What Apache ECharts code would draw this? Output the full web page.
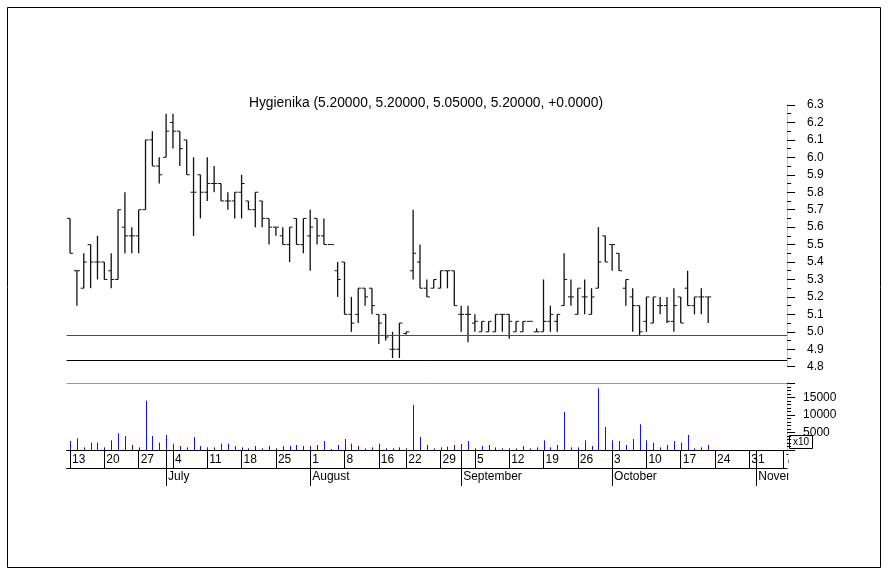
<!DOCTYPE html>
<html>
<head>
<meta charset="utf-8">
<script src="https://cdn.jsdelivr.net/npm/echarts@6/dist/echarts.min.js"></script>
<style>
  html, body { margin: 0; padding: 0; background: #fff; }
  #chart { width: 889px; height: 576px; }
</style>
</head>
<body>
<div id="chart"></div>
<script>
// trading days (2005), last 11 are empty future slots on the axis
var dates = [
  '06-13','06-14','06-15','06-16','06-17','06-20','06-21','06-22','06-23','06-24','06-27','06-28','06-29','06-30',
  '07-01','07-04','07-05','07-06','07-07','07-08','07-11','07-12','07-13','07-14','07-15','07-18','07-19','07-20','07-21','07-22','07-25','07-26','07-27','07-28','07-29',
  '08-01','08-02','08-03','08-04','08-05','08-08','08-09','08-10','08-11','08-12','08-16','08-17','08-18','08-19','08-22','08-23','08-24','08-25','08-26','08-29','08-30','08-31',
  '09-01','09-02','09-05','09-06','09-07','09-08','09-09','09-12','09-13','09-14','09-15','09-16','09-19','09-20','09-21','09-22','09-23','09-26','09-27','09-28','09-29','09-30',
  '10-03','10-04','10-05','10-06','10-07','10-10','10-11','10-12','10-13','10-14','10-17','10-18','10-19','10-20','10-21',
  '10-24','10-25','10-26','10-27','10-28','10-31','11-01','11-02','11-03','11-04','11-07'
];
var monthNames = ['January','February','March','April','May','June','July','August','September','October','November','December'];

var open = [5.65,5.35,5.25,5.50,5.40,5.40,5.35,5.30,5.60,5.55,5.55,5.70,6.10,5.95,6.00,6.20,6.15,6.10,5.80,5.90,
  5.80,5.85,5.85,5.75,5.75,5.80,5.75,5.70,5.75,5.65,5.60,5.55,5.50,5.65,5.50,5.55,5.65,5.55,5.50,5.35,
  5.40,5.10,5.10,5.25,5.25,5.10,5.10,4.90,4.90,4.99,5.35,5.40,5.25,5.25,5.25,5.35,5.35,5.10,5.10,5.05,
  5.00,5.00,5.00,5.10,5.10,5.00,5.00,5.06,5.00,5.00,5.06,5.06,5.15,5.20,5.10,5.20,5.10,5.25,5.55,5.50,
  5.45,5.25,5.20,5.15,5.06,5.05,5.15,5.15,5.06,5.20,5.25,5.15,5.20,5.20];
var high = [5.65,5.35,5.45,5.50,5.55,5.40,5.45,5.70,5.80,5.60,5.70,6.10,6.15,6.00,6.25,6.25,6.15,6.10,6.00,5.90,
  6.00,5.95,5.85,5.80,5.80,5.90,5.75,5.80,5.75,5.65,5.60,5.60,5.60,5.65,5.65,5.70,5.65,5.65,5.50,5.40,
  5.40,5.20,5.25,5.25,5.25,5.10,5.10,5.00,5.05,5.00,5.70,5.50,5.30,5.30,5.35,5.35,5.35,5.15,5.15,5.10,
  5.06,5.06,5.10,5.10,5.10,5.06,5.06,5.06,5.02,5.30,5.15,5.10,5.45,5.30,5.25,5.30,5.25,5.60,5.55,5.50,
  5.45,5.30,5.25,5.15,5.20,5.20,5.20,5.20,5.25,5.20,5.35,5.20,5.25,5.20];
var low = [5.45,5.15,5.25,5.25,5.30,5.30,5.25,5.30,5.45,5.45,5.45,5.70,5.95,5.85,6.00,6.05,5.95,5.90,5.55,5.65,
  5.75,5.80,5.75,5.70,5.65,5.65,5.70,5.60,5.60,5.50,5.55,5.50,5.40,5.50,5.45,5.35,5.50,5.50,5.50,5.20,
  5.10,5.00,5.05,5.15,5.10,4.93,4.95,4.85,4.85,4.985,5.30,5.25,5.20,5.25,5.25,5.25,5.15,5.00,4.94,5.00,
  5.00,5.00,5.00,5.00,4.96,5.00,5.00,5.06,5.00,5.00,5.00,5.00,5.15,5.15,5.10,5.10,5.10,5.25,5.40,5.35,
  5.35,5.15,5.00,4.98,5.00,5.05,5.10,5.05,5.00,5.05,5.15,5.10,5.10,5.05];
var close = [5.45,5.35,5.40,5.40,5.40,5.30,5.30,5.70,5.55,5.55,5.70,6.10,5.95,5.90,6.15,6.15,6.05,5.90,5.80,5.80,
  5.85,5.85,5.75,5.75,5.80,5.85,5.70,5.80,5.65,5.60,5.60,5.50,5.60,5.50,5.65,5.60,5.55,5.50,5.50,5.30,
  5.10,5.05,5.25,5.20,5.15,5.05,4.97,4.90,5.05,5.00,5.45,5.25,5.20,5.30,5.35,5.35,5.15,5.10,5.10,5.06,
  5.06,5.06,5.10,5.10,5.06,5.06,5.06,5.06,5.00,5.06,5.10,5.10,5.30,5.20,5.25,5.20,5.20,5.40,5.40,5.50,
  5.35,5.30,5.15,5.00,5.20,5.20,5.15,5.06,5.15,5.05,5.15,5.20,5.20,5.20];
var volume = [2580,3340,760,2100,2100,760,2770,4780,4010,1430,760,14130,4010,2100,4300,1810,1150,760,3720,1150,
  760,760,1810,1810,1150,760,480,1150,480,1150,480,1150,1150,1430,1150,1150,1430,2580,290,1430,
  3150,1810,1150,480,760,1810,480,480,760,480,12900,3720,1430,480,760,960,1430,1720,2580,480,
  1150,1430,760,480,480,480,1150,480,760,2770,760,1430,10890,760,760,2770,1150,17670,6590,2770,
  2580,1430,3150,7350,2770,2100,760,1430,2580,2100,4300,480,760,1430];
var priceTicks = [4.8, 6.3, 0.1];   // min, max, step
var volumeTicks = [0, 19200, 5000];
var supportLevel = 4.98;
var title = 'Hygienika (5.20000, 5.20000, 5.05000, 5.20000, +0.0000)';

function dayOf(s) { var p = s.split('-'); return new Date(2005, +p[0] - 1, +p[1]); }
function isWeekStart(i) {
  if (i === 0) return true;
  return dayOf(dates[i]).getDay() <= dayOf(dates[i - 1]).getDay();
}
function isMonthStart(i) {
  return i > 0 && dates[i].slice(0, 2) !== dates[i - 1].slice(0, 2);
}

var ohlc = open.map(function (o, i) { return [i, o, high[i], low[i], close[i]]; });
var volData = volume.map(function (v, i) { return [i, v]; });

var FONT = 'Liberation Sans';
var gridL = 66.6, gridW = 720.5;

var option = {
  animation: false,
  title: {
    text: title, left: 249, top: 96, padding: 0,
    textStyle: { fontSize: 13.8, fontWeight: 'normal', color: '#000', fontFamily: FONT }
  },
  grid: [
    { left: gridL, width: gridW, top: 105, height: 261.7 },
    { left: gridL, width: gridW, top: 383, height: 67 }
  ],
  xAxis: [
    { type: 'category', gridIndex: 0, position: 'bottom', data: dates, boundaryGap: true, show: false },
    { type: 'category', gridIndex: 1, position: 'bottom', data: dates, boundaryGap: true,
      axisLine: { show: true, lineStyle: { color: '#000', width: 1 } },
      axisTick: { show: true, alignWithLabel: true, interval: function (i) { return isWeekStart(i); }, length: 18, lineStyle: { color: '#000', width: 1 } },
      axisLabel: { show: true, interval: function (i) { return isWeekStart(i); }, formatter: function (v) { return String(+v.slice(3)); },
        align: 'left', margin: 4, padding: [0, 0, 0, 2], fontSize: 12, color: '#000', fontFamily: FONT }
    },
    { type: 'category', gridIndex: 1, position: 'bottom', data: dates, boundaryGap: true,
      axisLine: { show: false },
      axisTick: { show: true, alignWithLabel: true, interval: function (i) { return isMonthStart(i); }, length: 36, lineStyle: { color: '#000', width: 1 } },
      axisLabel: { show: true, interval: function (i) { return isMonthStart(i); }, formatter: function (v) { return monthNames[+v.slice(0, 2) - 1]; },
        align: 'left', margin: 21, padding: [0, 0, 0, 2], fontSize: 12, color: '#000', fontFamily: FONT }
    },
    { type: 'category', gridIndex: 1, position: 'bottom', data: dates, boundaryGap: true, offset: 18,
      axisLine: { show: true, lineStyle: { color: '#000', width: 1 } }, axisTick: { show: false }, axisLabel: { show: false } }
  ],
  yAxis: [
    { type: 'value', gridIndex: 0, position: 'right', min: priceTicks[0], max: priceTicks[1], interval: priceTicks[2],
      splitLine: { show: false },
      axisLine: { show: true, lineStyle: { color: '#c8c8c8' } },
      axisTick: { show: true, length: 8, lineStyle: { color: '#000' } },
      minorTick: { show: true, splitNumber: 2, length: 4, lineStyle: { color: '#000' } },
      axisLabel: { margin: 20, fontSize: 12, color: '#000', fontFamily: FONT, formatter: function (v) { return v.toFixed(1); } }
    },
    { type: 'value', gridIndex: 1, position: 'right', min: volumeTicks[0], max: volumeTicks[1], interval: volumeTicks[2],
      splitLine: { show: false },
      axisLine: { show: true, lineStyle: { color: '#c8c8c8' } },
      axisTick: { show: true, length: 8, lineStyle: { color: '#000' } },
      minorTick: { show: true, splitNumber: 5, length: 4, lineStyle: { color: '#000' } },
      axisLabel: { margin: 16, fontSize: 12, color: '#000', fontFamily: FONT,
        formatter: function (v) { return (v > 0 && v % 5000 === 0) ? String(v) : ''; } }
    }
  ],
  series: [
    {
      type: 'custom', xAxisIndex: 0, yAxisIndex: 0, data: ohlc,
      encode: { x: 0, y: [1, 2, 3, 4] },
      renderItem: function (params, api) {
        var x = api.coord([api.value(0), api.value(1)])[0];
        var yo = api.coord([api.value(0), api.value(1)])[1];
        var yh = api.coord([api.value(0), api.value(2)])[1];
        var yl = api.coord([api.value(0), api.value(3)])[1];
        var yc = api.coord([api.value(0), api.value(4)])[1];
        var st = { stroke: '#111', lineWidth: 1.3 };
        return { type: 'group', children: [
          { type: 'line', shape: { x1: x, y1: yh, x2: x, y2: yl }, style: st },
          { type: 'line', shape: { x1: x - 3, y1: yo, x2: x, y2: yo }, style: { stroke: '#111', lineWidth: 1 } },
          { type: 'line', shape: { x1: x, y1: yc, x2: x + 3, y2: yc }, style: { stroke: '#111', lineWidth: 1 } }
        ] };
      }
    },
    {
      // volume as crisp 1px blue lines
      type: 'custom', xAxisIndex: 1, yAxisIndex: 1, data: volData,
      encode: { x: 0, y: 1 },
      renderItem: function (params, api) {
        var top = api.coord([api.value(0), api.value(1)]);
        var base = api.coord([api.value(0), 0]);
        var x = Math.round(top[0]) + 0.5;
        return { type: 'line', shape: { x1: x, y1: base[1], x2: x, y2: top[1] },
          style: { stroke: '#1010ff', lineWidth: 1 } };
      }
    }
  ],
  graphic: [
    { type: 'rect', shape: { x: 7.5, y: 7.5, width: 873, height: 560 }, style: { fill: 'none', stroke: '#000', lineWidth: 1 }, z: 100 },
    { type: 'line', shape: { x1: gridL, y1: 360.5, x2: gridL + gridW, y2: 360.5 }, style: { stroke: '#000', lineWidth: 1 }, z: 100 },
    { type: 'line', shape: { x1: gridL, y1: 383.5, x2: gridL + gridW, y2: 383.5 }, style: { stroke: '#999', lineWidth: 1 }, z: 100 },
    { type: 'rect', shape: { x: 788.5, y: 451, width: 40, height: 36 }, style: { fill: '#fff' }, z: 100 },
    { type: 'group', left: 789, top: 435, z: 101, children: [
      { type: 'rect', shape: { x: 0.5, y: 0.5, width: 23, height: 13 }, style: { fill: '#fff', stroke: '#000', lineWidth: 1 } },
      { type: 'text', x: 12, y: 7.5, style: { text: 'x10', fontSize: 10, fill: '#000', fontFamily: FONT, textAlign: 'center', textVerticalAlign: 'middle' } }
    ] }
  ]
};

var myChart = echarts.init(document.getElementById('chart'));
myChart.setOption(option);

// red support line, placed through the price axis scale
var ySupport = Math.round(myChart.convertToPixel({ yAxisIndex: 0 }, supportLevel)) + 0.5;
option.graphic.push({ type: 'line', shape: { x1: gridL, y1: ySupport, x2: gridL + gridW, y2: ySupport },
  style: { stroke: '#ff0000', lineWidth: 1 }, z: 50 });
myChart.setOption({ graphic: option.graphic });
</script>
</body>
</html>
